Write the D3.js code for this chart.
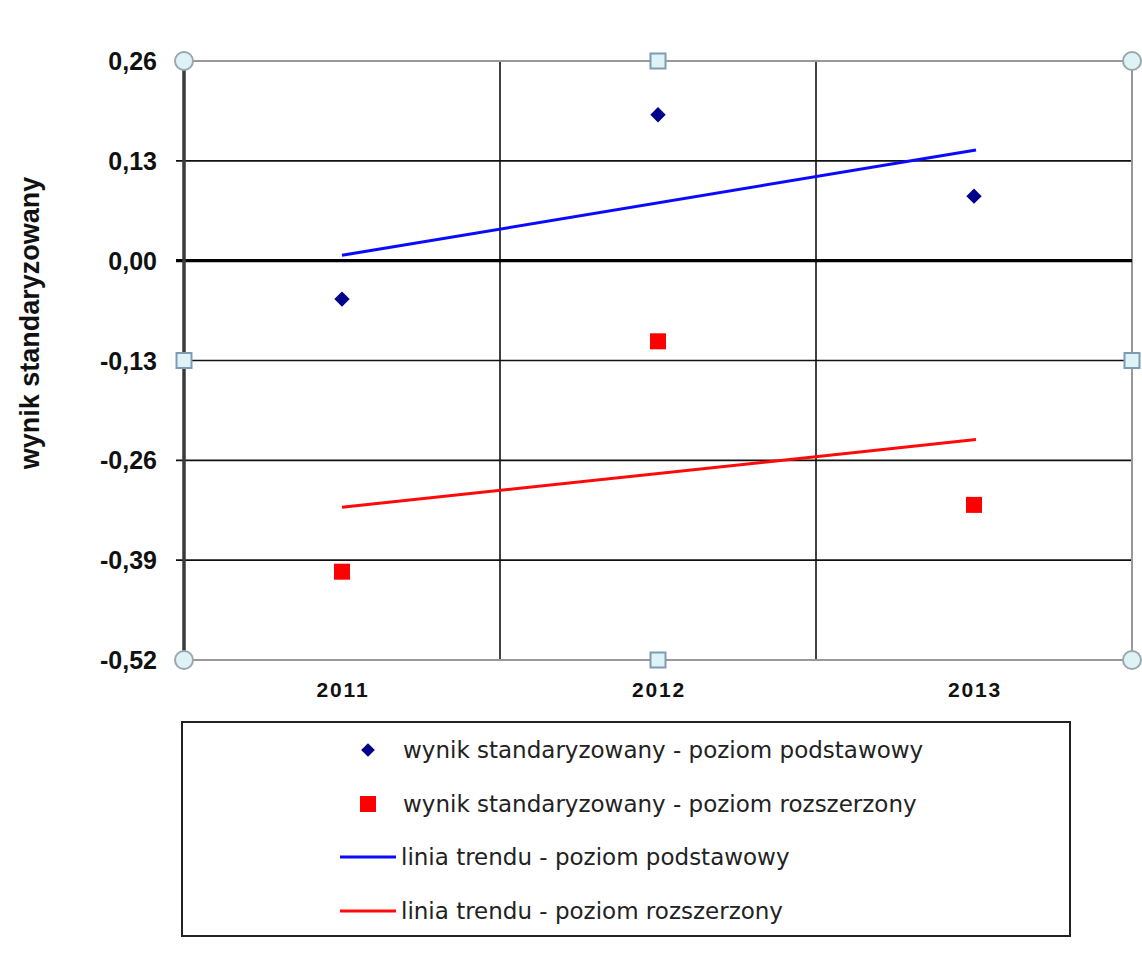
<!DOCTYPE html>
<html><head><meta charset="utf-8">
<script src="https://cdn.jsdelivr.net/npm/d3@7"></script>
<style>body{margin:0;background:#fff}svg{display:block}</style>
</head><body>
<svg id="c" width="1142" height="961"></svg>
<script>
const years = ["2011","2012","2013"];
const podstawowy = [-0.050, 0.190, 0.084];
const rozszerzony = [-0.405, -0.105, -0.318];
const trendPodst = [0.007, 0.144];   // at 2011 and 2013
const trendRozsz = [-0.321, -0.233];
const yTicks = [0.26, 0.13, 0.00, -0.13, -0.26, -0.39, -0.52];
const legendLabels = [
  "wynik standaryzowany - poziom podstawowy",
  "wynik standaryzowany - poziom rozszerzony",
  "linia trendu - poziom podstawowy",
  "linia trendu - poziom rozszerzony"
];

const svg = d3.select("#c");
const L = 184, R = 1132, T = 61, B = 660;
const x = d3.scaleBand().domain(years).range([L, R]).padding(0);
const xc = d => x(d) + x.bandwidth()/2;
const y = d3.scaleLinear().domain([-0.52, 0.26]).range([B, T]);
const fmt = v => d3.format(".2f")(v).replace(".", ",").replace("−","-");

// gridlines
svg.append("g").selectAll("line").data(yTicks.filter(v => v!==0.26 && v!==-0.52 && v!==0))
  .join("line").attr("x1", L-8).attr("x2", R).attr("y1", d=>y(d)).attr("y2", d=>y(d))
  .attr("stroke", "#111").attr("stroke-width", 1.6);
// vertical band boundaries
svg.append("g").selectAll("line").data(years.slice(1))
  .join("line").attr("x1", d=>x(d)).attr("x2", d=>x(d)).attr("y1", T).attr("y2", B)
  .attr("stroke", "#111").attr("stroke-width", 1.6);
// frame
svg.append("line").attr("x1", L).attr("x2", R).attr("y1", T).attr("y2", T).attr("stroke", "#999").attr("stroke-width", 2);
svg.append("line").attr("x1", L).attr("x2", R).attr("y1", B).attr("y2", B).attr("stroke", "#999").attr("stroke-width", 2);
svg.append("line").attr("x1", R).attr("x2", R).attr("y1", T).attr("y2", B).attr("stroke", "#999").attr("stroke-width", 2);
// zero line
svg.append("line").attr("x1", L-8).attr("x2", R).attr("y1", y(0)).attr("y2", y(0)).attr("stroke", "#000").attr("stroke-width", 3.2);
// left axis
svg.append("line").attr("x1", L).attr("x2", L).attr("y1", T).attr("y2", B).attr("stroke", "#3a3a3a").attr("stroke-width", 3.5);

// y tick labels
svg.append("g").selectAll("text").data(yTicks).join("text")
  .attr("x", 157).attr("y", d=>y(d)).attr("dy", "0.36em").attr("text-anchor", "end")
  .attr("font-family", "Liberation Sans, Arial, sans-serif").attr("font-weight", "bold").attr("font-size", 25)
  .attr("fill", "#111").text(fmt);
// x labels
svg.append("g").selectAll("text").data(years).join("text")
  .attr("x", d=>xc(d)+1).attr("y", 697).attr("text-anchor", "middle")
  .attr("font-family", "Liberation Sans, Arial, sans-serif").attr("font-weight", "bold").attr("font-size", 21)
  .attr("letter-spacing", 1.8)
  .attr("fill", "#111").text(d=>d);
// y title
svg.append("text").attr("transform", "translate(39,323) rotate(-90)").attr("text-anchor", "middle")
  .attr("font-family", "Liberation Sans, Arial, sans-serif").attr("font-weight", "bold").attr("font-size", 27)
  .attr("fill", "#111").text("wynik standaryzowany");

// trend lines
const line = d3.line().x(d=>d[0]).y(d=>y(d[1]));
svg.append("path").attr("d", line([[xc(years[0]), trendPodst[0]],[xc(years[2])+2, trendPodst[1]]]))
  .attr("stroke", "#0a0aff").attr("stroke-width", 3).attr("fill", "none");
svg.append("path").attr("d", line([[xc(years[0]), trendRozsz[0]],[xc(years[2])+2, trendRozsz[1]]]))
  .attr("stroke", "#ff0a0a").attr("stroke-width", 3).attr("fill", "none");

// markers
svg.append("g").selectAll("path").data(podstawowy).join("path")
  .attr("d", d3.symbol(d3.symbolDiamond2, 150))
  .attr("transform", (d,i)=>`translate(${xc(years[i])},${y(d)})`).attr("fill", "#00008b");
svg.append("g").selectAll("rect").data(rozszerzony).join("rect")
  .attr("x", (d,i)=>xc(years[i])-8).attr("y", d=>y(d)-8).attr("width", 16).attr("height", 16).attr("fill", "#ff0000");

// selection handles
const corners = [[L,T],[R,T],[L,B],[R,B]];
svg.append("g").selectAll("circle").data(corners).join("circle")
  .attr("cx", d=>d[0]).attr("cy", d=>d[1]).attr("r", 9)
  .attr("fill", "#def3f6").attr("stroke", "#9aa8ae").attr("stroke-width", 2);
const mids = [[(L+R)/2,T],[L,(T+B)/2],[R,(T+B)/2],[(L+R)/2,B]];
svg.append("g").selectAll("rect").data(mids).join("rect")
  .attr("x", d=>d[0]-7.5).attr("y", d=>d[1]-7.5).attr("width", 15).attr("height", 15)
  .attr("fill", "#def3f6").attr("stroke", "#7f9bb3").attr("stroke-width", 2);

// legend
svg.append("rect").attr("x", 182).attr("y", 722).attr("width", 888).attr("height", 214)
  .attr("fill", "#fff").attr("stroke", "#222").attr("stroke-width", 2);
const ly = [750, 804, 857, 911];
const lg = svg.append("g");
lg.append("path").attr("d", d3.symbol(d3.symbolDiamond2, 120)).attr("transform", `translate(368,${ly[0]})`).attr("fill", "#00008b");
lg.append("rect").attr("x", 360).attr("y", ly[1]-8).attr("width", 16).attr("height", 16).attr("fill", "#ff0000");
lg.append("line").attr("x1", 340).attr("x2", 396).attr("y1", ly[2]).attr("y2", ly[2]).attr("stroke", "#0a0aff").attr("stroke-width", 3);
lg.append("line").attr("x1", 340).attr("x2", 396).attr("y1", ly[3]).attr("y2", ly[3]).attr("stroke", "#ff0a0a").attr("stroke-width", 3);
lg.selectAll("text").data(legendLabels).join("text")
  .attr("x", (d,i)=> i<2 ? 403 : 401).attr("y", (d,i)=>ly[i]).attr("dy", "0.35em")
  .attr("font-family", "DejaVu Sans, Verdana, sans-serif").attr("font-size", 23)
  .attr("fill", "#222").text(d=>d);
</script>
</body></html>
